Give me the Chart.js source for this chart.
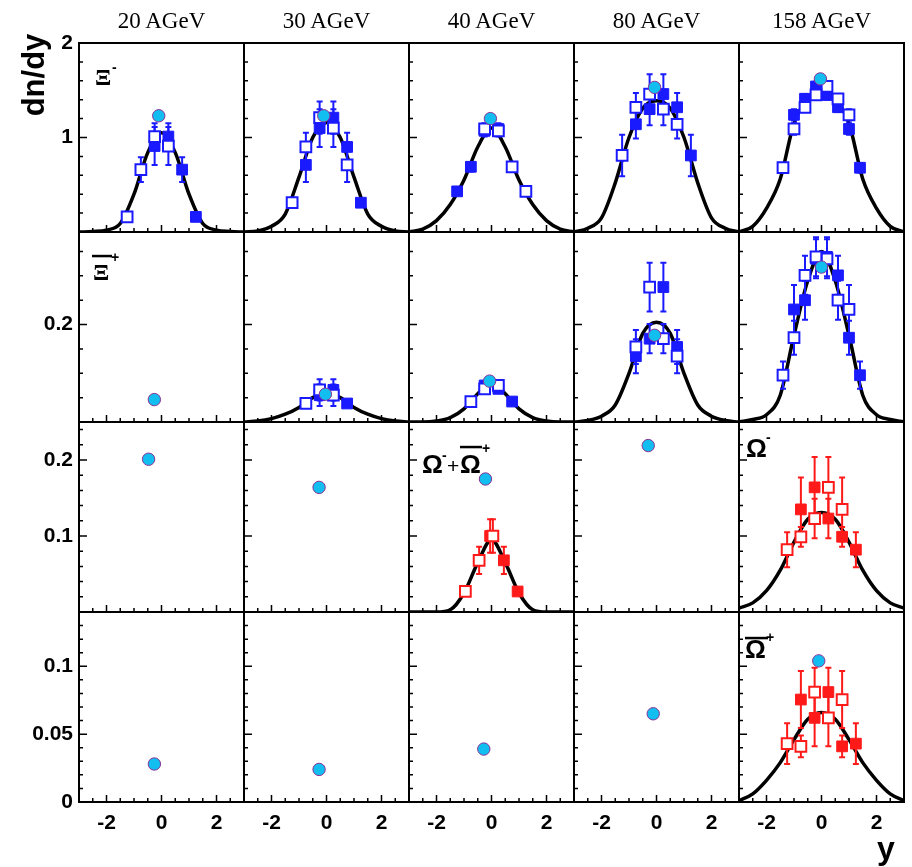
<!DOCTYPE html>
<html>
<head>
<meta charset="utf-8">
<script src="https://cdn.jsdelivr.net/npm/chart.js@4.4.1/dist/chart.umd.min.js"></script>
<style>
  body { margin: 0; background: #fff; width: 912px; height: 867px; position: relative; overflow: hidden; }
  canvas { position: absolute; }
  .title { position: absolute; top: 9px; width: 165px; text-align: center; font: 23px/23px "Liberation Serif", "Times New Roman", serif; color: #000; }
  .ylab { position: absolute; left: -24px; top: 55px; width: 120px; height: 40px; line-height: 40px; text-align: center;
          font: bold 31px "Liberation Sans", Arial, sans-serif; transform: rotate(-90deg); }
  .xlab { position: absolute; left: 877px; top: 832px; font: bold 32px/32px "Liberation Sans", Arial, sans-serif; }
</style>
</head>
<body>
<script>
// rapidity grid for the fitted curves
const rapidity = [ -3, -2.5, -2, -1.5, -1, -0.5, 0, 0.5, 1, 1.5, 2, 2.5, 3 ];
const energies = [ '20 AGeV', '30 AGeV', '40 AGeV', '80 AGeV', '158 AGeV' ];

// tick labels
const xTicks = [ -2, 0, 2 ];
const yTicksXiM = [ 1, 2 ];
const yTicksXiP = [ 0.2 ];
const yTicksOm = [ 0.1, 0.2 ];
const yTicksOmBar = [ 0, 0.05, 0.1 ];

// Xi- : measured points (filled), the open ones are the reflection
const xiM20Y = [ -0.25, 0.25, 0.75, 1.25 ];
const xiM20 = [ 0.91, 1.01, 0.66, 0.16 ];
const xiM20Err = [ 0.2, 0.14, 0.13, 0.03 ];
const xiM30Y = [ -0.75, -0.25, 0.25, 0.75, 1.25 ];
const xiM30 = [ 0.71, 1.10, 1.21, 0.90, 0.31 ];
const xiM30Err = [ 0.18, 0.2, 0.17, 0.15, 0.04 ];
const xiM40Y = [ -1.25, -0.75, -0.25, 0.25 ];
const xiM40 = [ 0.43, 0.69, 1.07, 1.09 ];
const xiM40Err = [ 0.03, 0.05, 0.06, 0.06 ];
const xiM80Y = [ -0.75, -0.25, 0.25, 0.75, 1.25 ];
const xiM80 = [ 1.14, 1.30, 1.46, 1.32, 0.81 ];
const xiM80Err = [ 0.15, 0.17, 0.21, 0.15, 0.22 ];
const xiM158Y = [ -1.0, -0.6, -0.2, 0.2, 0.6, 1.0, 1.4 ];
const xiM158 = [ 1.24, 1.41, 1.54, 1.45, 1.32, 1.09, 0.68 ];
const xiM158Err = [ 0.06, 0.05, 0.05, 0.05, 0.05, 0.06, 0.05 ];

// anti-Xi+
const xiP30Y = [ -0.25, 0.25, 0.75 ];
const xiP30 = [ 0.055, 0.066, 0.038 ];
const xiP30Err = [ 0.022, 0.022, 0.005 ];
const xiP40Y = [ -0.25, 0.25, 0.75 ];
const xiP40 = [ 0.075, 0.068, 0.042 ];
const xiP40Err = [ 0.008, 0.008, 0.005 ];
const xiP80Y = [ -0.75, -0.25, 0.25, 0.75 ];
const xiP80 = [ 0.135, 0.171, 0.277, 0.154 ];
const xiP80Err = [ 0.035, 0.03, 0.05, 0.035 ];
const xiP158Y = [ -1.0, -0.6, -0.2, 0.2, 0.6, 1.0, 1.4 ];
const xiP158 = [ 0.231, 0.25, 0.335, 0.339, 0.301, 0.173, 0.096 ];
const xiP158Err = [ 0.05, 0.04, 0.04, 0.04, 0.04, 0.035, 0.028 ];

// Omega
const om40Y = [ -0.05, 0.45, 0.95 ];
const om40 = [ 0.1, 0.068, 0.027 ];
const om40Err = [ 0.022, 0.018, 0.004 ];
const omM158Y = [ -0.75, -0.25, 0.25, 0.75, 1.25 ];
const omM158 = [ 0.135, 0.164, 0.123, 0.099, 0.082 ];
const omM158Err = [ 0.042, 0.04, 0.026, 0.013, 0.023 ];
const omP158Y = [ -0.75, -0.25, 0.25, 0.75, 1.25 ];
const omP158 = [ 0.0755, 0.062, 0.081, 0.041, 0.043 ];
const omP158Err = [ 0.021, 0.021, 0.018, 0.008, 0.015 ];

// fitted curves at the rapidity grid
const fitXiM20 = [ 0, 0.005, 0.02, 0.09, 0.4, 0.84, 1.05, 0.84, 0.4, 0.09, 0.02, 0.005, 0 ];
const fitXiM30 = [ 0, 0.01, 0.06, 0.19, 0.58, 1.0, 1.16, 1.0, 0.58, 0.19, 0.06, 0.01, 0 ];
const fitXiM40 = [ 0, 0.03, 0.12, 0.29, 0.55, 0.9, 1.1, 0.9, 0.55, 0.29, 0.12, 0.03, 0 ];
const fitXiM80 = [ 0, 0.04, 0.15, 0.52, 1.0, 1.31, 1.39, 1.31, 1.0, 0.52, 0.15, 0.04, 0 ];
const fitXiM158 = [ 0, 0.06, 0.25, 0.56, 1.15, 1.39, 1.43, 1.39, 1.15, 0.56, 0.25, 0.06, 0 ];
const fitXiP30 = [ 0, 0.002, 0.007, 0.016, 0.03, 0.05, 0.06, 0.05, 0.03, 0.016, 0.007, 0.002, 0 ];
const fitXiP40 = [ 0, 0, 0.002, 0.009, 0.027, 0.058, 0.08, 0.058, 0.027, 0.009, 0.002, 0, 0 ];
const fitXiP80 = [ 0, 0.003, 0.012, 0.035, 0.1, 0.182, 0.205, 0.182, 0.1, 0.035, 0.012, 0.003, 0 ];
const fitXiP158 = [ 0, 0.005, 0.015, 0.055, 0.178, 0.29, 0.35, 0.29, 0.178, 0.055, 0.015, 0.005, 0 ];
const fitOm40 = [ 0, 0, 0, 0.003, 0.025, 0.065, 0.095, 0.065, 0.025, 0.003, 0, 0, 0 ];
const fitOmM158 = [ 0.005, 0.012, 0.028, 0.055, 0.092, 0.122, 0.131, 0.122, 0.092, 0.055, 0.028, 0.012, 0.005 ];
const fitOmP158 = [ 0.001, 0.006, 0.016, 0.029, 0.046, 0.061, 0.066, 0.061, 0.046, 0.029, 0.016, 0.006, 0.001 ];

// model values (circles), one per energy
const modelXiMY = [ -0.1, -0.1, -0.04, -0.07, -0.04 ];
const modelXiM = [ 1.23, 1.23, 1.2, 1.53, 1.62 ];
const modelXiPY = [ -0.26, -0.04, -0.07, -0.07, 0.0 ];
const modelXiP = [ 0.046, 0.057, 0.084, 0.178, 0.318 ];
const modelOmY = [ -0.47, -0.27, -0.22, -0.3, null ];
const modelOm = [ 0.201, 0.164, 0.175, 0.219, null ];
const modelOmBarY = [ -0.26, -0.27, -0.28, -0.12, -0.1 ];
const modelOmBar = [ 0.028, 0.024, 0.039, 0.065, 0.104 ];

// layout
const colLeft = [ 79, 244, 409, 574, 739 ];
const rowTop = [ 43, 232, 422, 612 ];
const rowH = [ 189, 190, 190, 190 ];
const panelW = 165;
const M = 24, MX = 6, axisW = 79, axisH = 65;
const blue = '#1a1aff', red = '#ff1a1a';
const tickFont = { family: '"Liberation Sans", Arial, sans-serif', size: 21, weight: 'bold' };

const rows = [
    { max: 2, minor: 0.2, major: 1, ticks: yTicksXiM, modelY: modelXiMY, model: modelXiM },
    { max: 0.39, minor: 0.05, major: 0.2, ticks: yTicksXiP, modelY: modelXiPY, model: modelXiP },
    { max: 0.25, minor: 0.02, major: 0.1, ticks: yTicksOm, modelY: modelOmY, model: modelOm },
    { max: 0.14, minor: 0.01, major: 0.05, ticks: yTicksOmBar, modelY: modelOmBarY, model: modelOmBar }
];

// measured panels: [row, col, y, values, errors, fit, colour]
const measured = [
    [ 0, 0, xiM20Y, xiM20, xiM20Err, fitXiM20, blue ],
    [ 0, 1, xiM30Y, xiM30, xiM30Err, fitXiM30, blue ],
    [ 0, 2, xiM40Y, xiM40, xiM40Err, fitXiM40, blue ],
    [ 0, 3, xiM80Y, xiM80, xiM80Err, fitXiM80, blue ],
    [ 0, 4, xiM158Y, xiM158, xiM158Err, fitXiM158, blue ],
    [ 1, 1, xiP30Y, xiP30, xiP30Err, fitXiP30, blue ],
    [ 1, 2, xiP40Y, xiP40, xiP40Err, fitXiP40, blue ],
    [ 1, 3, xiP80Y, xiP80, xiP80Err, fitXiP80, blue ],
    [ 1, 4, xiP158Y, xiP158, xiP158Err, fitXiP158, blue ],
    [ 2, 2, om40Y, om40, om40Err, fitOm40, red ],
    [ 2, 4, omM158Y, omM158, omM158Err, fitOmM158, red ],
    [ 3, 4, omP158Y, omP158, omP158Err, fitOmP158, red ]
];

// particle labels, positions relative to the panel's top-left corner
const SERIF = '"Liberation Serif", "Times New Roman", serif';
const SANS = '"Liberation Sans", Arial, sans-serif';
const panelLabels = {
    '0,0': { text: [ [ 'Ξ', 'bold 24px ' + SERIF, 16, 42 ], [ '-', 'bold 14px ' + SANS, 33, 29 ] ], bars: [] },
    '1,0': { text: [ [ 'Ξ', 'bold 24px ' + SERIF, 14, 48 ], [ '+', 'bold 14px ' + SANS, 32, 30 ] ], bars: [ [ 13, 33, 24 ] ] },
    '2,2': { text: [ [ 'Ω', 'bold 26px ' + SANS, 13, 51 ], [ '-', 'bold 14px ' + SANS, 33, 38 ], [ '+', '21px ' + SANS, 38, 51 ],
                     [ 'Ω', 'bold 26px ' + SANS, 51, 51 ], [ '+', 'bold 14px ' + SANS, 73, 31 ] ], bars: [ [ 51, 73, 25 ] ] },
    '2,4': { text: [ [ 'Ω', 'bold 26px ' + SANS, 7, 35 ], [ '-', 'bold 14px ' + SANS, 27, 20 ] ], bars: [] },
    '3,4': { text: [ [ 'Ω', 'bold 26px ' + SANS, 6, 46 ], [ '+', 'bold 14px ' + SANS, 27, 30 ] ], bars: [ [ 6, 29, 26 ] ] }
};

// error bars after the fit line, frame, inward ticks and labels on top
const deco = {
    id: 'deco',
    afterDatasetDraw ( chart, args )
    {
        if ( !chart.data.datasets[ args.index ].isFit ) return;
        let ctx = chart.ctx, ys = chart.scales.y;
        chart.data.datasets.forEach( ( ds, di ) =>
        {
            if ( !ds.hasErr ) return;
            let meta = chart.getDatasetMeta( di );
            ctx.save();
            ctx.strokeStyle = ds.borderColor;
            ctx.lineWidth = 2;
            ds.data.forEach( ( p, i ) =>
            {
                let px = meta.data[ i ].x;
                let t = ys.getPixelForValue( p.y + p.e ), b = ys.getPixelForValue( p.y - p.e );
                ctx.beginPath();
                ctx.moveTo( px, t ); ctx.lineTo( px, b );
                ctx.moveTo( px - 3, t ); ctx.lineTo( px + 3, t );
                ctx.moveTo( px - 3, b ); ctx.lineTo( px + 3, b );
                ctx.stroke();
            } );
            ctx.restore();
        } );
    },
    afterDraw ( chart )
    {
        let ctx = chart.ctx, a = chart.chartArea, xs = chart.scales.x, ys = chart.scales.y;
        let row = rows[ chart.options.plugins.deco.row ];
        ctx.save();
        ctx.strokeStyle = '#000';
        ctx.lineWidth = 1.5;
        ctx.beginPath();
        for ( let k = -6; k <= 6; k++ )
        {
            let v = k * 0.5, px = xs.getPixelForValue( v );
            let len = xTicks.includes( v ) ? 7 : 4;
            ctx.moveTo( px, a.bottom ); ctx.lineTo( px, a.bottom - len );
        }
        for ( let k = 1; k * row.minor < row.max - 1e-9; k++ )
        {
            let v = k * row.minor, py = ys.getPixelForValue( v );
            let r = v / row.major;
            let len = Math.abs( r - Math.round( r ) ) < 1e-6 ? 8 : 4;
            ctx.moveTo( a.left, py ); ctx.lineTo( a.left + len, py );
        }
        ctx.stroke();
        ctx.lineWidth = 2;
        ctx.strokeRect( a.left, a.top, a.right - a.left, a.bottom - a.top );
        let lab = panelLabels[ chart.options.plugins.deco.key ];
        if ( lab )
        {
            ctx.fillStyle = '#000';
            ctx.textBaseline = 'alphabetic';
            lab.text.forEach( t =>
            {
                ctx.font = t[ 1 ];
                ctx.fillText( t[ 0 ], a.left + t[ 2 ], a.top + t[ 3 ] );
            } );
            lab.bars.forEach( b => ctx.fillRect( a.left + b[ 0 ], a.top + b[ 2 ] - 1.2, b[ 1 ] - b[ 0 ], 2.5 ) );
        }
        ctx.restore();
    }
};

function makePanel ( r, c )
{
    let row = rows[ r ];
    let first = c === 0, bottom = r === 3;
    let w = ( first ? axisW : MX ) + panelW + MX;
    let h = M + rowH[ r ] + ( bottom ? axisH : M );
    let cv = document.createElement( 'canvas' );
    cv.width = w; cv.height = h;
    cv.style.left = ( first ? 0 : colLeft[ c ] - MX ) + 'px';
    cv.style.top = ( rowTop[ r ] - M ) + 'px';
    document.body.appendChild( cv );

    let datasets = [];
    if ( row.model[ c ] !== null )
    {
        datasets.push( {
            data: [ { x: row.modelY[ c ], y: row.model[ c ] } ],
            pointStyle: 'circle', pointRadius: 6.2,
            backgroundColor: '#12bdf0', borderColor: '#8b3296', borderWidth: 1
        } );
    }
    let m = measured.find( d => d[ 0 ] === r && d[ 1 ] === c );
    if ( m )
    {
        let [ , , ys, vs, es, fit, col ] = m;
        datasets.push( {
            data: ys.map( ( y, i ) => ( { x: -y, y: vs[ i ], e: es[ i ] } ) ),
            hasErr: true, pointStyle: 'rect', pointRadius: 7.6,
            backgroundColor: '#fff', borderColor: col, borderWidth: 2
        } );
        datasets.push( {
            data: ys.map( ( y, i ) => ( { x: y, y: vs[ i ], e: es[ i ] } ) ),
            hasErr: true, pointStyle: 'rect', pointRadius: 7.6,
            backgroundColor: col, borderColor: col, borderWidth: 1
        } );
        datasets.push( {
            data: rapidity.map( ( x, i ) => ( { x: x, y: fit[ i ] } ) ),
            isFit: true, showLine: true, pointRadius: 0,
            borderColor: '#000', borderWidth: 3.5, cubicInterpolationMode: 'monotone'
        } );
    }

    new Chart( cv, {
        type: 'scatter',
        data: { datasets: datasets },
        options: {
            responsive: false, animation: false, devicePixelRatio: 1, events: [],
            layout: { autoPadding: false, padding: { left: first ? 0 : MX, right: MX, top: M, bottom: bottom ? 0 : M } },
            plugins: { legend: { display: false }, tooltip: { enabled: false }, deco: { row: r, key: r + ',' + c } },
            scales: {
                x: {
                    type: 'linear', min: -3, max: 3, display: bottom,
                    afterBuildTicks: s => { s.ticks = xTicks.map( v => ( { value: v } ) ); },
                    afterFit: s => { if ( bottom ) s.height = axisH; },
                    grid: { display: false, drawTicks: false }, border: { display: false },
                    ticks: { padding: 9, color: '#000', font: tickFont, callback: v => String( v ) }
                },
                y: {
                    type: 'linear', min: 0, max: row.max, display: first,
                    afterBuildTicks: s => { s.ticks = row.ticks.map( v => ( { value: v } ) ); },
                    afterFit: s => { if ( first ) s.width = axisW; },
                    grid: { display: false, drawTicks: false }, border: { display: false },
                    ticks: { padding: 6, color: '#000', font: tickFont, callback: v => String( v ) }
                }
            }
        },
        plugins: [ deco ]
    } );
}

for ( let r = 0; r < 4; r++ )
    for ( let c = 0; c < 5; c++ )
        makePanel( r, c );

// column titles and axis titles
energies.forEach( ( e, c ) =>
{
    let d = document.createElement( 'div' );
    d.className = 'title';
    d.style.left = colLeft[ c ] + 'px';
    d.textContent = e;
    document.body.appendChild( d );
} );
let yl = document.createElement( 'div' );
yl.className = 'ylab';
yl.textContent = 'dn/dy';
document.body.appendChild( yl );
let xl = document.createElement( 'div' );
xl.className = 'xlab';
xl.textContent = 'y';
document.body.appendChild( xl );
</script>
</body>
</html>
